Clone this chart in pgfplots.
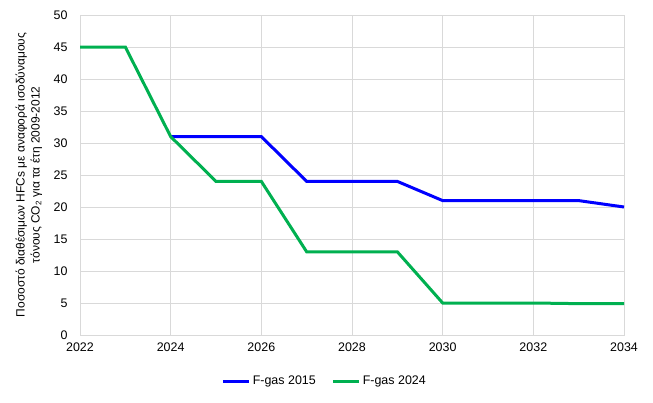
\documentclass[border=0pt]{standalone}
\usepackage{pgfplots}
\pgfplotsset{compat=1.18}
\usepackage{fontspec}
\setmainfont{Liberation Sans}
\definecolor{fblue}{RGB}{0,0,255}
\definecolor{fgreen}{RGB}{0,176,80}
\definecolor{gridc}{RGB}{217,217,217}
\begin{document}
\begin{tikzpicture}[x=1bp,y=1bp]
\path[use as bounding box] (0,0) rectangle (653,402);
\begin{axis}[
  at={(80bp,67bp)}, anchor=south west,
  scale only axis, width=544bp, height=320bp,
  xmin=2022, xmax=2034, ymin=0, ymax=50,
  xtick={2022,2024,...,2034}, ytick={0,5,...,50},
  /pgf/number format/1000 sep={},
  /pgf/number format/assume math mode=true,
  tick label style={font=\fontsize{12.5}{14}\selectfont},
  major tick length=0pt,
  xticklabel style={yshift=-4bp},
  yticklabel style={xshift=-9bp},
  grid=major,
  major grid style={gridc, line width=0.8bp},
  axis line style={gridc, line width=0.8bp},
  ylabel={Ποσοστό διαθέσιμων HFCs με αναφορά ισοδύναμους\\τόνους CO\textsubscript{2} για τα έτη 2009-2012},
  ylabel style={align=center, font=\fontsize{12}{15}\selectfont, at={(axis description cs:-0.094,0.5)}, anchor=center},
  legend style={at={(axis description cs:0.45,-0.144)}, anchor=center, draw=none, legend columns=2,
     font=\fontsize{12.5}{14}\selectfont, /tikz/every even column/.append style={column sep=14bp},
     /tikz/every odd column/.append style={inner xsep=1bp}},
  legend image code/.code={\draw[#1] (0bp,0bp) -- (26bp,0bp);},
]
\addplot[fblue, line width=3bp] coordinates {
(2024,31) (2025,31) (2026,31) (2027,24) (2028,24) (2029,24) (2030,21) (2031,21) (2032,21) (2033,21) (2034,20)};
\addlegendentry{F-gas 2015}
\addplot[fgreen, line width=3bp] coordinates {
(2022,45) (2023,45) (2024,31) (2025,24) (2026,24) (2027,13) (2028,13) (2029,13) (2030,5) (2031,5) (2032,5) (2033,4.9) (2034,4.9)};
\addlegendentry{F-gas 2024}
\end{axis}
\end{tikzpicture}
\end{document}
